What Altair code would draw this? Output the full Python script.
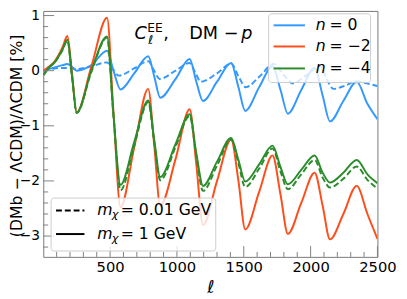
import altair as alt
import pandas as pd

# multipole grid (shared by most curves)
ELL = [2, 40, 85, 145, 180, 215, 250, 360, 477, 525, 578, 680, 785, 830, 875, 990,
       1095, 1145, 1195, 1300, 1405, 1460, 1511, 1615, 1715, 1775, 1830, 1930,
       2030, 2090, 2145, 2245, 2345, 2425, 2500]

# n = 0, m_chi = 1 GeV (solid blue)
N0_1GEV = [0.0, 0.03, 0.06, 0.10, 0.12, 0.07, 0.0, 0.10, 0.36, 0.0, -0.34, -0.05, 0.26,
           -0.10, -0.49, -0.15, 0.21, -0.20, -0.55, -0.20, 0.14, -0.30, -0.73, -0.30,
           0.08, -0.35, -0.78, -0.35, 0.05, -0.45, -0.92, -0.55, -0.20, -0.60, -0.88]
# n = -2, m_chi = 1 GeV (solid orange)
N2_1GEV = [0.0, 0.07, 0.17, 0.43, 0.63, -0.05, -0.76, 0.08, 0.96, -0.75, -2.48, -1.40,
           -0.33, -1.35, -2.45, -1.60, -0.70, -1.70, -2.80, -2.00, -1.25, -2.00, -2.88,
           -2.20, -1.54, -2.25, -2.96, -2.40, -1.85, -2.45, -3.06, -2.60, -2.09, -2.60, -3.05]
# n = -4, m_chi = 1 GeV (solid green)
N4_1GEV = [-0.08, 0.05, 0.15, 0.39, 0.56, -0.10, -0.76, 0.0, 0.62, -0.80, -2.07, -1.30,
           -0.54, -1.25, -1.93, -1.33, -0.79, -1.50, -2.09, -1.65, -1.22, -1.62, -2.01,
           -1.70, -1.36, -1.75, -2.06, -1.80, -1.54, -1.85, -2.03, -1.85, -1.62, -1.88, -2.04]
# n = -4, m_chi = 0.01 GeV (dashed green)
N4_001GEV = [-0.08, 0.05, 0.15, 0.38, 0.55, -0.10, -0.77, -0.02, 0.60, -0.82, -2.17, -1.36,
             -0.57, -1.30, -1.99, -1.38, -0.82, -1.55, -2.18, -1.72, -1.25, -1.68, -2.11,
             -1.78, -1.41, -1.83, -2.15, -1.88, -1.62, -1.94, -2.12, -1.96, -1.74, -1.98, -2.14]
# n = 0, m_chi = 0.01 GeV (dashed blue)
ELL_N0_001 = [2, 60, 120, 180, 250, 360, 477, 520, 565, 680, 785, 830, 870, 990, 1095,
              1140, 1178, 1300, 1405, 1460, 1515, 1620, 1722, 1800, 1867, 1970, 2073,
              2120, 2171, 2260, 2340, 2420, 2500]
N0_001GEV = [0.0, 0.03, 0.05, 0.05, 0.03, 0.08, 0.15, 0.03, -0.09, 0.04, 0.17, 0.0, -0.15,
             0.0, 0.14, -0.05, -0.20, -0.05, 0.13, -0.10, -0.30, -0.10, 0.12, -0.08, -0.23,
             -0.08, 0.09, -0.15, -0.33, -0.27, -0.19, -0.23, -0.28]

Y_MAJOR = [-3, -2, -1, 0, 1]
Y_MINOR = [-3.2, -2.8, -2.6, -2.4, -2.2, -1.8, -1.6, -1.4, -1.2, -0.8, -0.6, -0.4, -0.2,
           0.2, 0.4, 0.6, 0.8]
X_MAJOR = [500, 1000, 1500, 2000, 2500]
X_MINOR = [100, 200, 300, 400, 600, 700, 800, 900, 1100, 1200, 1300, 1400, 1600, 1700,
           1800, 1900, 2100, 2200, 2300, 2400]

LEG_N = ["0", "−2", "−4"]
LEG_M = ["0.01 GeV", "1 GeV"]

BLUE, ORANGE, GREEN = "#3399ff", "#ff4d1a", "#2b8c2b"
TICK = "#808080"
FONT = "DejaVu Sans"
W, H = 341, 251
DASH = [6, 3]

xs = alt.Scale(domain=[0, 2500], nice=False, zero=False)
ys = alt.Scale(domain=[-3.378, 1.084], nice=False, zero=False)

x_axis = alt.Axis(values=X_MAJOR, format="d", labelFont=FONT, labelFontSize=15,
                  labelColor="black", labelPadding=3, labelFlush=False, labelOverlap=False,
                  ticks=False, tickSize=0, domain=False, grid=False,
                  title="ℓ", titleFont=FONT, titleFontSize=18, titleFontStyle="italic",
                  titleFontWeight="normal", titleColor="black", titleY=36,
                  titleBaseline="alphabetic")
y_axis = alt.Axis(values=Y_MAJOR, labelExpr="datum.value < 0 ? '−' + abs(datum.value) : '' + datum.value",
                  labelFont=FONT, labelFontSize=14, labelColor="black", labelPadding=4,
                  labelOverlap=False, labelFlush=False,
                  ticks=False, tickSize=0, domain=False, grid=False,
                  title="(DMb − ΛCDM)/ΛCDM   [%]", titleFont=FONT, titleFontSize=16,
                  titleFontWeight="normal", titleColor="black", titleX=-19, titleY=127,
                  titleBaseline="bottom", titleAngle=270)

one = pd.DataFrame({"a": [0]})


def curve(ell, vals, color, dashed):
    df = pd.DataFrame({"ell": ell, "v": vals})
    kw = dict(color=color, strokeWidth=2, interpolate="monotone", clip=True)
    if dashed:
        kw["strokeDash"] = DASH
    return alt.Chart(df).mark_line(**kw).encode(
        x=alt.X("ell:Q", scale=xs, axis=x_axis),
        y=alt.Y("v:Q", scale=ys, axis=y_axis),
    )


def yticks(vals, length):
    return alt.Chart(pd.DataFrame({"v": vals})).mark_rule(color=TICK, strokeWidth=1).encode(
        y=alt.Y("v:Q", scale=ys, axis=y_axis), x=alt.value(0), x2=alt.value(length))


def xticks(vals, length):
    return alt.Chart(pd.DataFrame({"ell": vals})).mark_rule(color=TICK, strokeWidth=1).encode(
        x=alt.X("ell:Q", scale=xs, axis=x_axis), y=alt.value(H), y2=alt.value(H - length))


def txt(s, x, y, size, italic=False, baseline="alphabetic"):
    kw = dict(text=s, font=FONT, fontSize=size, align="left", baseline=baseline, color="black")
    if italic:
        kw["fontStyle"] = "italic"
    return alt.Chart(one).mark_text(**kw).encode(x=alt.value(x), y=alt.value(y))


def box(x1, x2, y1, y2):
    return alt.Chart(one).mark_rect(fill="white", fillOpacity=0.8, stroke="#cccccc",
                                    strokeWidth=1, cornerRadius=3).encode(
        x=alt.value(x1), x2=alt.value(x2), y=alt.value(y1), y2=alt.value(y2))


def sample(x1, x2, y, color, dashed):
    kw = dict(color=color, strokeWidth=2)
    if dashed:
        kw["strokeDash"] = DASH
    return alt.Chart(one).mark_rule(**kw).encode(x=alt.value(x1), x2=alt.value(x2), y=alt.value(y))


layers = [
    curve(ELL_N0_001, N0_001GEV, BLUE, True),
    curve(ELL, N0_1GEV, BLUE, False),
    curve(ELL, N2_1GEV, ORANGE, False),
    curve(ELL, N4_001GEV, GREEN, True),
    curve(ELL, N4_1GEV, GREEN, False),
    yticks(Y_MAJOR, 11), yticks(Y_MINOR, 5),
    xticks(X_MAJOR, 11), xticks(X_MINOR, 5),
    # in-plot label
    txt("C", 93, 29, 18, italic=True),
    txt("ℓ", 107, 34, 12.5, italic=True),
    txt("EE", 106, 21.5, 12.5),
    txt(",", 122.5, 29, 18),
    txt("DM − ", 149, 29, 18),
    txt("p", 202, 29, 18, italic=True),
    # legend for n
    box(230, 334, 3, 73),
]
leg_y = [14.7, 36.3, 58.7]
for (c, lab, yy) in zip([BLUE, ORANGE, GREEN], LEG_N, leg_y):
    layers.append(sample(235, 267, yy, c, False))
    layers.append(txt("n", 278, yy, 16, italic=True, baseline="middle"))
    layers.append(txt("= " + lab, 292, yy, 16, baseline="middle"))
# legend for m_chi
layers.append(box(8, 176, 191, 245))
for (dashed, lab, yy) in zip([True, False], LEG_M, [203.7, 227.7]):
    layers.append(sample(13, 42, yy, "black", dashed))
    layers.append(txt("m", 55, yy, 16, italic=True, baseline="middle"))
    layers.append(txt("χ", 70, yy + 5, 11.5, italic=True, baseline="middle"))
    layers.append(txt("=  " + lab, 79, yy, 16, baseline="middle"))

chart = alt.layer(*layers).properties(
    width=W, height=H,
    autosize=alt.AutoSizeParams(type="none"),
    padding={"left": 36, "top": 0, "right": 22, "bottom": 40},
).configure_view(stroke="#777777", strokeWidth=1)

chart.save("out.html", embed_options={"renderer": "svg", "actions": False})
